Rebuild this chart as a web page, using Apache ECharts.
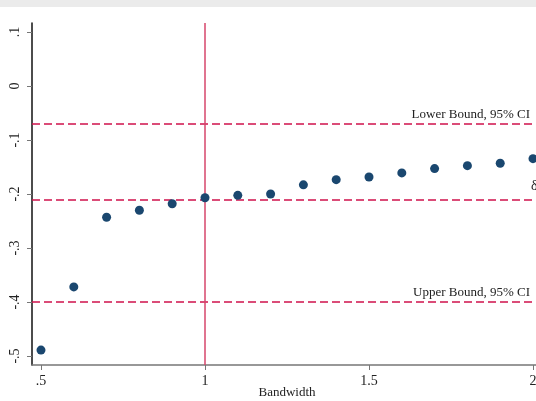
<!DOCTYPE html>
<html>
<head>
<meta charset="utf-8">
<script src="https://cdn.jsdelivr.net/npm/echarts@6/dist/echarts.min.js"></script>
<style>
  html, body { margin: 0; padding: 0; background: #fff; }
  #chart { width: 536px; height: 401px; }
</style>
</head>
<body>
<div id="chart"></div>
<script>
const bandwidths = [0.5, 0.6, 0.7, 0.8, 0.9, 1.0, 1.1, 1.2, 1.3, 1.4, 1.5, 1.6, 1.7, 1.8, 1.9, 2.0];
const estimates = [-0.489, -0.372, -0.243, -0.230, -0.218, -0.207, -0.2025, -0.200, -0.183, -0.1735, -0.1685, -0.161, -0.153, -0.1475, -0.143, -0.1346];
const xTicks = [0.5, 1, 1.5, 2];
const yTicks = [-0.5, -0.4, -0.3, -0.2, -0.1, 0, 0.1];
const lowerBound = -0.0700;
const pointEstimate = -0.2074;
const upperBound = -0.4037;
const cutoff = 1;

const serif = "Liberation Serif";
const red = "#d0124c";

function fmt(v) {
  // Stata style: drop the leading zero
  const s = String(Math.round(v * 10) / 10);
  return s.replace(/^0\./, ".").replace(/^-0\./, "-.");
}

const chart = echarts.init(document.getElementById("chart"));

const options = {
  animation: false,
  backgroundColor: "#fff",
  graphic: [
    { type: "rect", left: 0, top: 0, shape: { width: 536, height: 7 }, style: { fill: "#ebebeb" }, z: 10 }
  ],
  grid: { left: 32, right: -6, top: 23, bottom: 36, containLabel: false, outerBoundsMode: "none" },
  xAxis: {
    type: "value",
    min: 0.4726,
    max: 2.0274,
    name: "Bandwidth",
    nameLocation: "middle",
    nameGap: 21,
    nameMoveOverlap: false,
    nameTextStyle: { fontFamily: serif, fontSize: 13, color: "#222" },
    axisLine: { onZero: false, lineStyle: { color: "#777", width: 1.5 } },
    axisTick: { show: true, length: 5, customValues: xTicks, lineStyle: { color: "#777" } },
    axisLabel: { customValues: xTicks, formatter: fmt, margin: 9, fontFamily: serif, fontSize: 14, color: "#222" },
    splitLine: { show: false }
  },
  yAxis: {
    type: "value",
    min: -0.51667,
    max: 0.11667,
    axisLine: { show: true, onZero: false, lineStyle: { color: "#111", width: 1.5 } },
    axisTick: { show: true, length: 5, customValues: yTicks, lineStyle: { color: "#777" } },
    axisLabel: { customValues: yTicks, formatter: fmt, rotate: 90, margin: 10, fontFamily: serif, fontSize: 14, color: "#222" },
    splitLine: { show: false }
  },
  series: [
    {
      type: "scatter",
      data: bandwidths.map((b, i) => [b, estimates[i]]),
      symbolSize: 9,
      itemStyle: { color: "#1a476f", opacity: 1 },
      z: 5,
      markLine: {
        silent: true,
        symbol: "none",
        animation: false,
        label: { show: false },
        data: [
          {
            yAxis: lowerBound,
            lineStyle: { color: red, type: [8, 4], width: 1.5 },
            label: { show: true, formatter: "Lower Bound, 95% CI", position: "insideEndTop", distance: [12, 3], fontFamily: serif, fontSize: 13, color: "#222" }
          },
          {
            yAxis: pointEstimate,
            lineStyle: { color: red, type: [8, 4], width: 1.5 }
          },
          {
            yAxis: upperBound,
            lineStyle: { color: red, type: [8, 4], width: 1.5 },
            label: { show: true, formatter: "Upper Bound, 95% CI", position: "insideEndTop", distance: [12, 3], fontFamily: serif, fontSize: 13, color: "#222" }
          },
          {
            xAxis: cutoff,
            lineStyle: { color: "#d6466b", type: "solid", width: 1.5 }
          }
        ]
      },
      markPoint: {
        silent: true,
        symbol: "circle",
        symbolSize: 0,
        data: [
          {
            coord: [1.985, pointEstimate],
            label: { show: true, formatter: "δ", position: "right", offset: [-2, -12], fontFamily: serif, fontSize: 14, color: "#222" }
          }
        ]
      }
    }
  ]
};

chart.setOption(options);
</script>
</body>
</html>
